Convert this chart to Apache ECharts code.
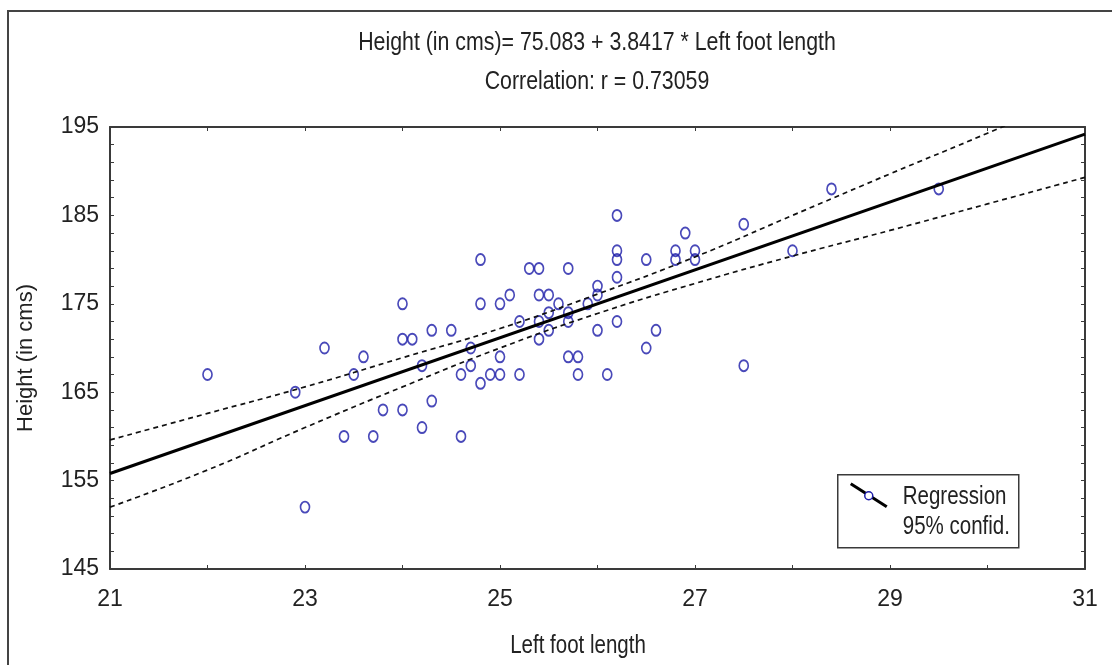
<!DOCTYPE html>
<html>
<head>
    <meta charset="utf-8">
    <title>Height vs left foot length</title>
    <script src="https://cdn.jsdelivr.net/npm/echarts@6/dist/echarts.min.js"></script>
    <style>
        html, body { margin: 0; padding: 0; background: #fff; }
        #chart { width: 1112px; height: 665px; }
    </style>
</head>
<body>
<div id="chart"></div>
<script>
    // measured points (left foot length, height)
    var footLength = [22, 22.9, 23, 23.2, 23.4, 23.5, 23.6, 23.7, 23.8, 24, 24, 24.1, 24, 24.2, 24.2,
        24.3, 24.3, 24.5, 24.6, 24.6, 24.7, 24.7, 24.8, 24.8, 24.8, 24.9, 25, 25, 25, 25.1,
        25.2, 25.2, 25.3, 25.4, 25.4, 25.4, 25.4, 25.5, 25.5, 25.5, 25.6, 25.7, 25.7, 25.7, 25.7,
        25.8, 25.8, 25.9, 26, 26, 26, 26.1, 26.2, 26.2, 26.2, 26.2, 26.2, 26.5, 26.5, 26.6,
        26.8, 26.8, 26.9, 27, 27, 27.5, 27.5, 28, 28.4, 29.5];
    var height = [167, 165, 152, 170, 160, 167, 169, 160, 163, 175, 171, 171, 163, 168, 161,
        172, 164, 172, 167, 160, 170, 168, 180, 175, 166, 167, 175, 169, 167, 176,
        173, 167, 179, 179, 176, 173, 171, 176, 174, 172, 175, 179, 174, 173, 169,
        169, 167, 175, 177, 176, 172, 167, 185, 181, 180, 178, 173, 180, 170, 172,
        181, 180, 183, 181, 180, 184, 168, 181, 188, 188];

    // regression line ends and 95% band
    var lineX = [21, 31];
    var lineY = [155.8, 194.2];
    var bandX = [21, 22, 23, 24, 25, 26, 27, 28, 29, 30, 31];
    var bandUpper = [159.6, 162.6, 165.6, 168.9, 172.2, 176.1, 180.3, 185.0, 189.7, 194.3, 199.1];
    var bandLower = [152.0, 156.2, 161.0, 165.6, 170.0, 173.9, 177.3, 180.4, 183.3, 186.3, 189.3];

    var sans = "'Liberation Sans', Arial, sans-serif";
    var textColor = '#222';
    var frameColor = '#3a3a3a';
    var dotColor = '#1c1ca8';
    var squeeze = 0.82;   // no narrow font installed, so squeeze Liberation Sans

    function zip(a, b) {
        var out = [];
        for (var i = 0; i < a.length; i++) out.push([a[i], b[i]]);
        return out;
    }

    function boxAxis(extra) {
        var base = {
            type: 'value',
            axisLine: { show: true, onZero: false, lineStyle: { color: frameColor, width: 2 } },
            axisTick: { show: true, inside: true, length: 4, lineStyle: { color: frameColor } },
            splitLine: { show: false },
            axisLabel: { show: false }
        };
        return Object.assign(base, extra);
    }

    function narrowText(str, x, y, size, align) {
        return {
            type: 'text', x: x, y: y, scaleX: squeeze, silent: true,
            style: { text: str, font: size + 'px ' + sans, fill: textColor,
                     align: align || 'center', verticalAlign: 'middle' }
        };
    }

    var myChart = echarts.init(document.getElementById('chart'));
    var option = {
        animation: false,
        backgroundColor: '#fff',
        grid: { left: 110, top: 127, right: 27, bottom: 96 },
        xAxis: [
            boxAxis({
                position: 'bottom', min: 21, max: 31, interval: 2,
                minorTick: { show: true, splitNumber: 2, length: 4, lineStyle: { color: frameColor } },
                axisLabel: { show: true, fontFamily: sans, fontSize: 23, color: textColor, margin: 19 }
            }),
            boxAxis({
                position: 'top', min: 21, max: 31, interval: 2,
                minorTick: { show: true, splitNumber: 2, length: 4, lineStyle: { color: frameColor } }
            })
        ],
        yAxis: [
            boxAxis({
                position: 'left', min: 145, max: 195, interval: 10,
                minorTick: { show: true, splitNumber: 5, length: 4, lineStyle: { color: frameColor } },
                axisLabel: { show: true, fontFamily: sans, fontSize: 23, color: textColor, margin: 11 },
                name: 'Height (in cms)', nameLocation: 'middle', nameGap: 73, nameRotate: 90,
                nameTextStyle: { fontFamily: sans, fontSize: 22, color: textColor, padding: [0, 20, 0, 0] }
            }),
            boxAxis({
                position: 'right', min: 145, max: 195, interval: 10,
                minorTick: { show: true, splitNumber: 5, length: 4, lineStyle: { color: frameColor } }
            })
        ],
        series: [
            {
                name: 'Upper 95%',
                type: 'line',
                data: zip(bandX, bandUpper),
                smooth: true,
                symbol: 'none',
                lineStyle: { color: '#111', width: 1.7, type: [5, 4] }
            },
            {
                name: 'Lower 95%',
                type: 'line',
                data: zip(bandX, bandLower),
                smooth: true,
                symbol: 'none',
                lineStyle: { color: '#111', width: 1.7, type: [5, 4] }
            },
            {
                name: 'Regression',
                type: 'line',
                data: zip(lineX, lineY),
                symbol: 'none',
                lineStyle: { color: '#000', width: 3 }
            },
            {
                name: 'Points',
                type: 'scatter',
                data: zip(footLength, height),
                symbol: 'circle',
                symbolSize: [9, 11],
                itemStyle: { color: 'rgba(255,255,255,0)', borderColor: dotColor, borderWidth: 1.8 }
            }
        ],
        graphic: [
            // outer frame, only top and left edges show in the image
            {
                type: 'rect', shape: { x: 8, y: 11, width: 1200, height: 800 },
                style: { fill: 'none', stroke: '#444', lineWidth: 2 }, silent: true
            },
            narrowText('Height (in cms)= 75.083 + 3.8417 * Left foot length', 597, 43, 26),
            narrowText('Correlation: r = 0.73059', 597, 82, 26),
            narrowText('Left foot length', 578, 646, 25),
            {
                type: 'group', left: 837, top: 474,
                children: [
                    { type: 'rect', shape: { x: 0, y: 0, width: 181, height: 73 },
                      style: { fill: '#fff', stroke: frameColor, lineWidth: 1.5 } },
                    { type: 'line', shape: { x1: 13, y1: 9, x2: 49, y2: 32 },
                      style: { stroke: '#000', lineWidth: 3 } },
                    { type: 'circle', shape: { cx: 31, cy: 21, r: 4 },
                      style: { fill: '#fff', stroke: dotColor, lineWidth: 1.5 } },
                    narrowText('Regression', 65, 22, 25, 'left'),
                    narrowText('95% confid.', 65, 52, 25, 'left')
                ]
            }
        ]
    };
    myChart.setOption(option);
</script>
</body>
</html>
